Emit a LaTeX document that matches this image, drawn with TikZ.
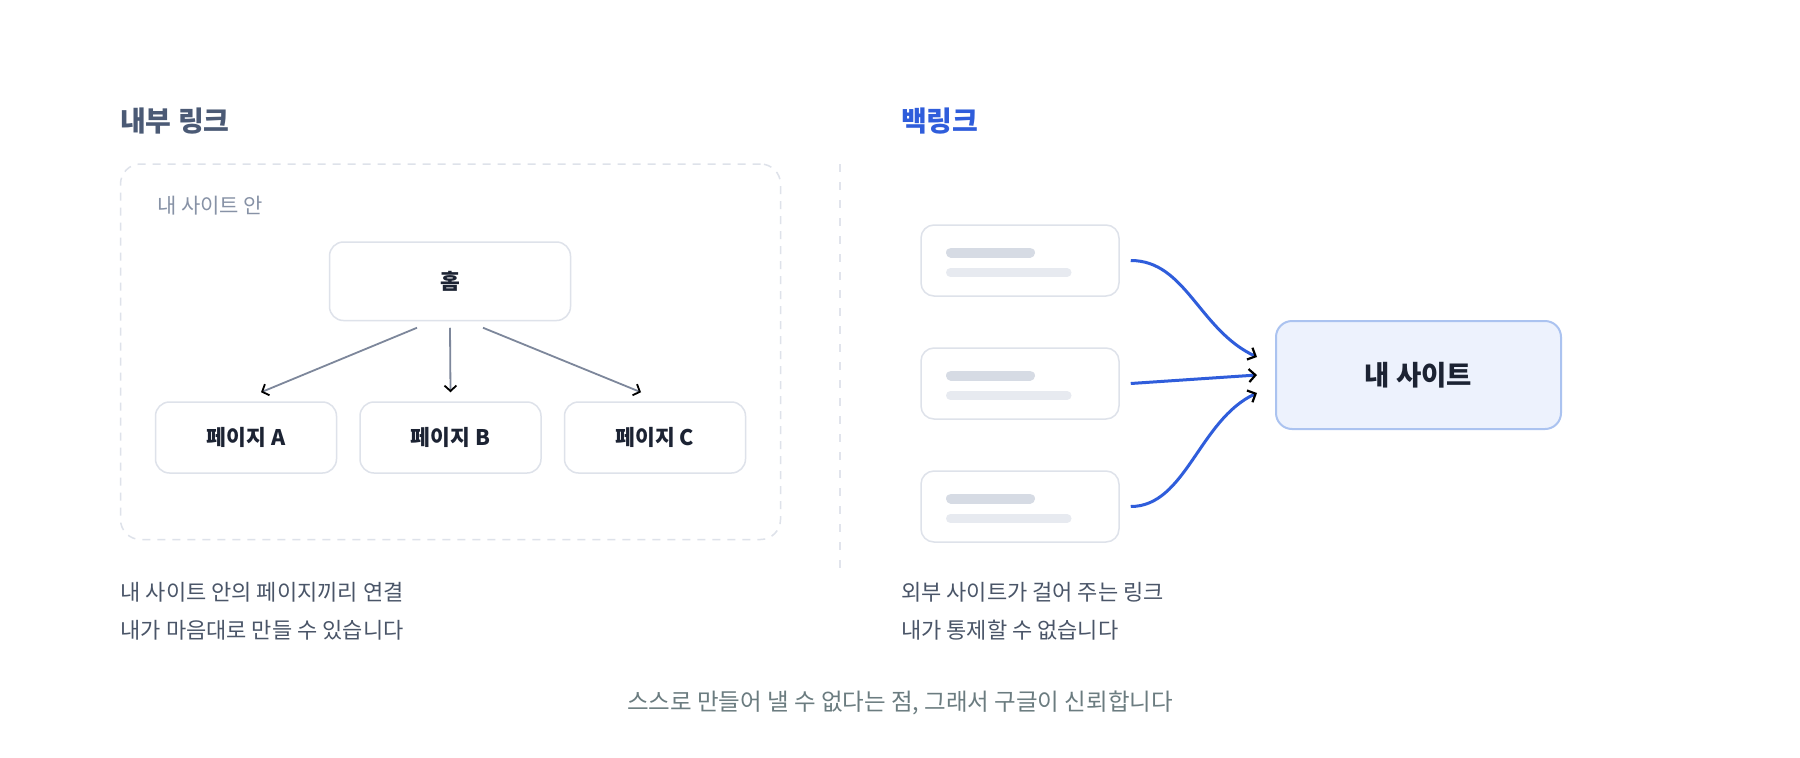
\documentclass[tikz,border=0pt]{standalone}
\usepackage{fontspec}
\setmainfont{Noto Sans CJK KR}
\usetikzlibrary{arrows.meta,calc}
\definecolor{titlec}{HTML}{4B5A75}
\definecolor{bluec}{HTML}{2F5DDB}
\definecolor{capc}{HTML}{4A5568}
\definecolor{labc}{HTML}{8792A6}
\definecolor{boxb}{HTML}{DEE2EA}
\definecolor{darkt}{HTML}{1C2333}
\definecolor{garrowc}{HTML}{7D879B}
\definecolor{barone}{HTML}{D6DBE4}
\definecolor{bartwo}{HTML}{E7EAF0}
\definecolor{minef}{HTML}{EDF2FD}
\definecolor{mineb}{HTML}{ABC3F0}
\definecolor{divc}{HTML}{E1E4EC}
\definecolor{footc}{HTML}{6B7C80}
\tikzset{
  titletext/.style={anchor=west,inner sep=0pt,font=\fontsize{28}{32}\selectfont\bfseries},
  captext/.style={anchor=west,inner sep=0pt,text=capc,font=\fontsize{22}{26}\selectfont},
  pbox/.style={draw=boxb,line width=1.5pt,rounded corners=14pt,fill=white,text=darkt,
    font=\fontsize{21.5}{26}\selectfont\bfseries,inner sep=0pt},
  sbox/.style={draw=boxb,line width=1.5pt,rounded corners=13pt,fill=white,
    minimum width=198pt,minimum height=71pt,inner sep=0pt},
  barA/.style={draw=barone,line width=10pt,line cap=round},
  barB/.style={draw=bartwo,line width=9pt,line cap=round},
  garrow/.style={draw=garrowc,line width=1.8pt,
    -{Straight Barb[length=5.5pt,width=12pt,line width=1.8pt,color=black]}},
  barrow/.style={draw=bluec,line width=3pt,
    -{Straight Barb[length=6.5pt,width=13pt,line width=2.2pt,color=black]}}
}
\begin{document}
\begin{tikzpicture}[x=1pt,y=-1pt]
\useasboundingbox[fill=white] (0,0) rectangle (1800,758);

% titles
\node[titletext,text=titlec] (t1) at (120,121) {내부 링크};
\node[titletext,text=bluec] (t2) at (901,121) {백링크};

% left container
\node[draw=boxb,line width=1.5pt,dash pattern=on 8pt off 7pt,rounded corners=20pt,
  minimum width=660pt,minimum height=375.5pt,inner sep=0pt] (site) at (450.5,351.75) {};
\node[anchor=west,inner sep=0pt,text=labc,font=\fontsize{21}{25}\selectfont] (lab) at (157,205.5) {내 사이트 안};

\node[pbox,minimum width=241pt,minimum height=78.5pt] (home) at (450,281.25) {홈};
\node[pbox,minimum width=181pt,minimum height=71pt] (pa) at (246,437.5) {페이지 A};
\node[pbox,minimum width=181pt,minimum height=71pt] (pb) at (450.5,437.5) {페이지 B};
\node[pbox,minimum width=181pt,minimum height=71pt] (pc) at (655,437.5) {페이지 C};

\draw[garrow] ([xshift=-33pt,yshift=-6.5pt]home.south) -- ([xshift=15pt,yshift=9pt]pa.north);
\draw[garrow] ([yshift=-6.5pt]home.south) -- ([yshift=9pt]pb.north);
\draw[garrow] ([xshift=33pt,yshift=-6.5pt]home.south) -- ([xshift=-14pt,yshift=9pt]pc.north);

% divider
\coordinate (dtop) at (840,164);
\coordinate (dbot) at (840,569);
\draw[divc,line width=2pt,dash pattern=on 8pt off 10pt] (dtop) -- (dbot);

% right side sources
\node[sbox] (s1) at (1020,260.5) {};
\node[sbox] (s2) at (1020,383.5) {};
\node[sbox] (s3) at (1020,506.5) {};
\foreach \s in {s1,s2,s3}{
  \draw[barA] ($(\s.center)+(-69,-8)$) -- ++(79,0);
  \draw[barB] ($(\s.center)+(-69.5,12)$) -- ++(116.5,0);
}

\node[draw=mineb,fill=minef,line width=2pt,rounded corners=16pt,minimum width=285pt,
  minimum height=108pt,inner sep=0pt,text=darkt,font=\fontsize{27.5}{32}\selectfont\bfseries] (mine) at (1418.5,375) {내 사이트};

\draw[barrow] ([xshift=11pt]s1.east) .. controls +(55,0) and +(-58,-27) .. ([xshift=-18pt,yshift=18pt]mine.west);
\draw[barrow] ([xshift=11pt]s2.east) -- ([xshift=-18pt]mine.west);
\draw[barrow] ([xshift=11pt]s3.east) .. controls +(55,0) and +(-58,27) .. ([xshift=-18pt,yshift=-18pt]mine.west);

% captions
\node[captext] (c1) at (120.5,592) {내 사이트 안의 페이지끼리 연결};
\node[captext] (c2) at (120.5,630) {내가 마음대로 만들 수 있습니다};
\node[captext] (c3) at (901,592) {외부 사이트가 걸어 주는 링크};
\node[captext] (c4) at (901,630) {내가 통제할 수 없습니다};

\node[inner sep=0pt,text=footc,font=\fontsize{23.5}{28}\selectfont] (foot) at (900,702.5) {스스로 만들어 낼 수 없다는 점, 그래서 구글이 신뢰합니다};
\end{tikzpicture}
\end{document}
